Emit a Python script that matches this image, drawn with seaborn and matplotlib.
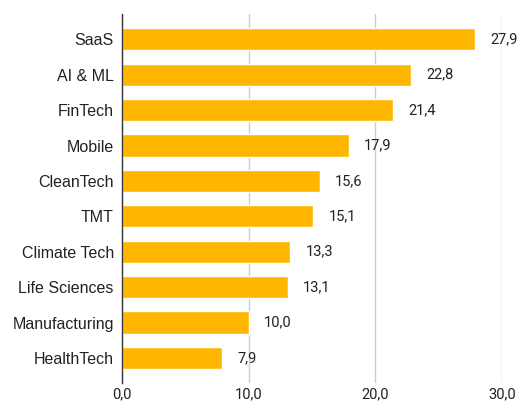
import matplotlib
matplotlib.use("Agg")
import matplotlib.pyplot as plt
import seaborn as sns
import pandas as pd

sectors = ["SaaS", "AI & ML", "FinTech", "Mobile", "CleanTech", "TMT",
           "Climate Tech", "Life Sciences", "Manufacturing", "HealthTech"]
values = [27.9, 22.8, 21.4, 17.9, 15.6, 15.1, 13.3, 13.1, 10.0, 7.9]
x_ticks = [0, 10, 20, 30]

df = pd.DataFrame({"sector": sectors, "value": values})

sns.set_style("white")
plt.rcParams["font.family"] = ["Roboto", "DejaVu Sans"]

fig, ax = plt.subplots(figsize=(5.2, 4.05), dpi=100)
fig.subplots_adjust(left=0.235, right=0.965, top=0.965, bottom=0.055)

sns.barplot(data=df, y="sector", x="value", color="#FFB600", saturation=1,
            width=0.63, ax=ax, zorder=3)

for p, v in zip(ax.patches, values):
    ax.annotate(f"{v:.1f}".replace(".", ","),
                (p.get_width(), p.get_y() + p.get_height() / 2),
                xytext=(11, 0), textcoords="offset points",
                ha="left", va="center", fontsize=10.5, color="#222222")

ax.set_xlim(0, 30)
ax.set_ylim(len(sectors) - 0.3, -0.71)
ax.set_xticks(x_ticks)
ax.set_xticklabels([f"{t:.1f}".replace(".", ",") for t in x_ticks])
ax.set_xlabel("")
ax.set_ylabel("")
ax.grid(axis="x", color="#cccccc", linewidth=1, zorder=0)
ax.tick_params(axis="both", length=0, labelsize=10.5, labelcolor="#222222")
ax.tick_params(axis="x", pad=3)
ax.tick_params(axis="y", pad=6)
for lab in ax.get_yticklabels():
    lab.set_fontfamily(["Liberation Sans", "DejaVu Sans"])
    lab.set_fontsize(11.5)
for s in ["top", "right", "bottom"]:
    ax.spines[s].set_visible(False)
ax.spines["left"].set_color("#333333")
ax.spines["left"].set_linewidth(1)
ax.spines["left"].set_zorder(4)

plt.savefig("out.png", dpi=100)
